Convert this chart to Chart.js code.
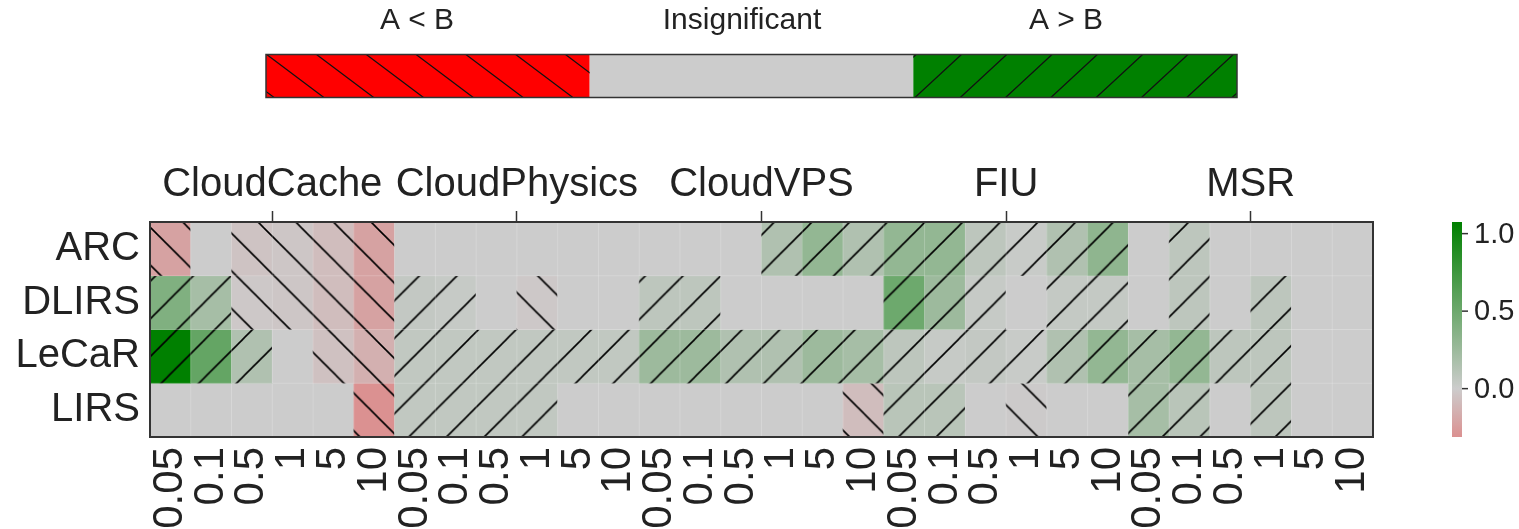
<!DOCTYPE html>
<html>
<head>
<meta charset="utf-8">
<script src="https://cdn.jsdelivr.net/npm/chart.js@4.4.1/dist/chart.umd.min.js"></script>
<style>
body { margin: 0; background: #fff; }
</style>
</head>
<body>
<canvas id="grafico" width="1519" height="529"></canvas>
<script>
// rows / groups / sizes
const filas = ["ARC", "DLIRS", "LeCaR", "LIRS"];
const grupos = ["CloudCache", "CloudPhysics", "CloudVPS", "FIU", "MSR"];
const tamanos = ["0.05", "0.1", "0.5", "1", "5", "10"];
const leyenda = ["A < B", "Insignificant", "A > B"];
const ticksBarra = [0, 0.5, 1.0];

// values per row, 30 columns (5 groups x 6 sizes)
const valARC   = [-0.22, 0, -0.05, -0.03, -0.08, -0.22,  0, 0, 0, 0, 0, 0,  0, 0, 0, 0.15, 0.3, 0.15,  0.3, 0.3, 0.08, 0.02, 0.15, 0.32,  0, 0.08, 0, 0, 0, 0];
const valDLIRS = [0.4, 0.2, -0.02, -0.03, -0.08, -0.22,  0.05, 0.03, 0, -0.02, 0, 0,  0.08, 0.08, 0, 0, 0, 0,  0.5, 0.25, 0.03, 0, 0.04, 0.04,  0, 0.08, 0, 0.08, 0, 0];
const valLeCaR = [1.075, 0.55, 0.15, 0, -0.06, -0.15,  0.06, 0.06, 0.06, 0.06, 0.06, 0.06,  0.25, 0.25, 0.15, 0.15, 0.25, 0.2,  0.08, 0.03, 0.05, 0.02, 0.15, 0.3,  0.2, 0.3, 0.08, 0.08, 0, 0];
const valLIRS  = [0, 0, 0, 0, 0, -0.31,  0.06, 0.06, 0.06, 0.06, 0, 0,  0, 0, 0, 0, 0, -0.08,  0.1, 0.1, 0, -0.01, 0, 0,  0.2, 0.1, 0, 0.08, 0, 0];

// significance hatch: 1 = A > B ("/"), -1 = A < B ("\"), 0 = insignificant
const sigARC   = [-1, 0, -1, -1, -1, -1,  0, 0, 0, 0, 0, 0,  0, 0, 0, 1, 1, 1,  1, 1, 1, 1, 1, 1,  0, 1, 0, 0, 0, 0];
const sigDLIRS = [1, 1, -1, -1, -1, -1,  1, 1, 0, -1, 0, 0,  1, 1, 0, 0, 0, 0,  1, 1, 1, 0, 1, 1,  0, 1, 0, 1, 0, 0];
const sigLeCaR = [1, 1, 1, 0, -1, -1,  1, 1, 1, 1, 1, 1,  1, 1, 1, 1, 1, 1,  1, 1, 1, 1, 1, 1,  1, 1, 1, 1, 0, 0];
const sigLIRS  = [0, 0, 0, 0, 0, -1,  1, 1, 1, 1, 0, 0,  0, 0, 0, 0, 0, -1,  1, 1, 0, -1, 0, 0,  1, 1, 0, 1, 0, 0];

const valores = [valARC, valDLIRS, valLeCaR, valLIRS];
const signos = [sigARC, sigDLIRS, sigLeCaR, sigLIRS];

const vmin = -0.312;
const vmax = 1.075;
const FUENTE = "'Liberation Sans', Arial, sans-serif";

const etiquetasX = [];
grupos.forEach(() => tamanos.forEach(t => etiquetasX.push(t)));

function colorDe(v) {
    const gris = [204, 204, 204];
    const fin = v >= 0 ? [0, 128, 0] : [255, 0, 0];
    const t = Math.min(1, Math.abs(v) / vmax);
    const c = gris.map((g, i) => Math.round(g + (fin[i] - g) * t));
    return "rgb(" + c.join(",") + ")";
}

const canvas = document.getElementById("grafico");
const ctx = canvas.getContext("2d");

const PASO = 37.67;
const TILE = 38;

function trama(color, dir) {
    const c = document.createElement("canvas");
    c.width = TILE;
    c.height = TILE;
    const g = c.getContext("2d");
    g.fillStyle = color;
    g.fillRect(0, 0, TILE, TILE);
    g.strokeStyle = "#000";
    g.lineWidth = 1.6;
    g.beginPath();
    for (const k of [-TILE, 0, TILE, 2 * TILE]) {
        if (dir > 0) {
            g.moveTo(k + 3, -3);
            g.lineTo(-3, k + 3);
        } else {
            g.moveTo(k - 3, -3);
            g.lineTo(k + TILE + 3, TILE + 3);
        }
    }
    g.stroke();
    const p = ctx.createPattern(c, "repeat");
    const s = PASO / TILE;
    p.setTransform(new DOMMatrix([s, 0, 0, s, dir > 0 ? 17 : 36, 0]));
    return p;
}

const datasets = filas.map((f, r) => ({
    label: f,
    data: valores[r].map(() => [r, r + 1]),
    backgroundColor: valores[r].map((v, i) =>
        signos[r][i] ? trama(colorDe(v), signos[r][i]) : colorDe(v)),
    borderWidth: 0,
    barPercentage: 1,
    categoryPercentage: 1,
    grouped: false
}));

const extras = {
    id: "extras",
    afterDatasetsDraw(chart) {
        const a = chart.chartArea;
        const c = chart.ctx;
        const w = (a.right - a.left) / 30;
        const h = (a.bottom - a.top) / 4;
        c.save();
        c.strokeStyle = "rgba(255,255,255,0.2)";
        c.lineWidth = 1;
        c.beginPath();
        for (let i = 1; i < 30; i++) {
            c.moveTo(a.left + i * w, a.top);
            c.lineTo(a.left + i * w, a.bottom);
        }
        for (let j = 1; j < 4; j++) {
            c.moveTo(a.left, a.top + j * h);
            c.lineTo(a.right, a.top + j * h);
        }
        c.stroke();
        c.strokeStyle = "#333";
        c.lineWidth = 2;
        c.strokeRect(a.left, a.top, a.right - a.left, a.bottom - a.top);
        c.restore();
    },
    afterDraw(chart) {
        const a = chart.chartArea;
        const c = chart.ctx;
        c.save();

        // colorbar
        const bx = 1452, bw = 10;
        const top = a.top, bot = a.bottom;
        const grad = c.createLinearGradient(0, bot, 0, top);
        for (let i = 0; i <= 40; i++) {
            grad.addColorStop(i / 40, colorDe(vmin + (vmax - vmin) * i / 40));
        }
        c.fillStyle = grad;
        c.fillRect(bx, top, bw, bot - top);
        c.strokeStyle = "#333";
        c.lineWidth = 1.5;
        c.fillStyle = "#222";
        c.font = "29px " + FUENTE;
        c.textAlign = "left";
        c.textBaseline = "middle";
        ticksBarra.forEach(t => {
            const y = bot - (t - vmin) / (vmax - vmin) * (bot - top);
            c.beginPath();
            c.moveTo(bx + bw, y);
            c.lineTo(bx + bw + 6, y);
            c.stroke();
            c.fillText(t.toFixed(1), bx + bw + 12, y + 1);
        });

        // significance legend bar
        const lx = 266, lr = 1237, ly = 54.5, lh = 43;
        const seg = (lr - lx) / 3;
        const colores = ["#ff0000", "#cccccc", "#008000"];
        colores.forEach((col, i) => {
            c.fillStyle = col;
            c.fillRect(lx + i * seg, ly, seg, lh);
        });
        c.strokeStyle = "#111";
        c.lineWidth = 1.2;
        // red "\"
        c.save();
        c.beginPath();
        c.rect(lx, ly, seg, lh);
        c.clip();
        c.beginPath();
        for (let n = -2; n < 9; n++) {
            const xt = 266.7 + n * 49.8;
            c.moveTo(xt, ly);
            c.lineTo(xt + 1.33 * lh, ly + lh);
        }
        c.stroke();
        c.restore();
        // green "/"
        c.save();
        c.beginPath();
        c.rect(lx + 2 * seg, ly, seg, lh);
        c.clip();
        c.beginPath();
        for (let n = -2; n < 9; n++) {
            const xb = 915 + n * 45.3;
            c.moveTo(xb, ly + lh);
            c.lineTo(xb + 1.08 * lh, ly);
        }
        c.stroke();
        c.restore();
        c.strokeStyle = "#333";
        c.lineWidth = 1.5;
        c.strokeRect(lx, ly, lr - lx, lh);

        c.fillStyle = "#222";
        c.font = "30px " + FUENTE;
        c.textAlign = "center";
        c.textBaseline = "middle";
        const centros = [417, 742, 1066];
        leyenda.forEach((t, i) => c.fillText(t, centros[i], 21));
        c.restore();
    }
};

new Chart(ctx, {
    type: "bar",
    data: {
        labels: etiquetasX,
        datasets: datasets
    },
    options: {
        responsive: false,
        animation: false,
        events: [],
        devicePixelRatio: 1,
        layout: { padding: { left: 0, right: 146, top: 0, bottom: 0 } },
        plugins: {
            legend: { display: false },
            tooltip: { enabled: false }
        },
        scales: {
            x: {
                type: "category",
                position: "bottom",
                grid: { display: false, drawTicks: false },
                border: { display: false },
                ticks: {
                    autoSkip: false,
                    maxRotation: 90,
                    minRotation: 90,
                    padding: 10,
                    color: "#222",
                    font: { size: 42, family: FUENTE }
                },
                afterFit: s => { s.height = 92; }
            },
            xTop: {
                type: "linear",
                position: "top",
                min: 0,
                max: 30,
                offset: false,
                grid: { offset: false, drawOnChartArea: false, drawTicks: true, tickLength: 11, tickColor: "#333", tickWidth: 1.5 },
                border: { display: false },
                afterBuildTicks: s => { s.ticks = [3, 9, 15, 21, 27].map(v => ({ value: v })); },
                ticks: {
                    autoSkip: false,
                    maxRotation: 0,
                    padding: 2,
                    color: "#222",
                    font: { size: 40, family: FUENTE },
                    callback: (v, i) => grupos[i]
                },
                afterFit: s => { s.height = 222; }
            },
            y: {
                type: "linear",
                min: 0,
                max: 4,
                reverse: true,
                grid: { display: false, drawTicks: false },
                border: { display: false },
                afterBuildTicks: s => { s.ticks = [0.5, 1.5, 2.5, 3.5].map(v => ({ value: v })); },
                ticks: {
                    padding: 10,
                    color: "#222",
                    font: { size: 40, family: FUENTE },
                    callback: (v, i) => filas[i]
                },
                afterFit: s => { s.width = 150; }
            }
        }
    },
    plugins: [extras]
});
</script>
</body>
</html>
